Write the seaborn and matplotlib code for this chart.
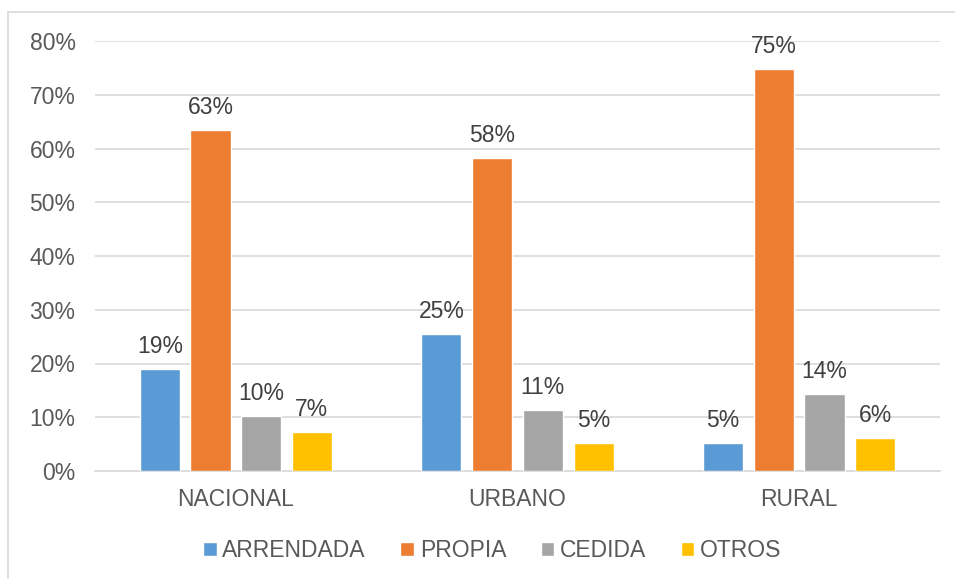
import pandas as pd
import numpy as np
import matplotlib.pyplot as plt
import seaborn as sns
from matplotlib.lines import Line2D
from matplotlib.ticker import PercentFormatter

# data
zonas = ['NACIONAL', 'URBANO', 'RURAL']
tenencias = ['ARRENDADA', 'PROPIA', 'CEDIDA', 'OTROS']
arrendada = [19.0, 25.4, 5.2]
propia = [63.4, 58.2, 74.8]
cedida = [10.2, 11.3, 14.3]
otros = [7.3, 5.2, 6.1]
colores = ['#5B9BD5', '#ED7D31', '#A5A5A5', '#FFC000']

df = pd.DataFrame({
    'zona': zonas * 4,
    'tenencia': np.repeat(tenencias, 3),
    'valor': arrendada + propia + cedida + otros,
})

sns.set_style('white')
plt.rcParams['font.family'] = ['Liberation Sans', 'DejaVu Sans']
texto = '#595959'
fs = 16.5

fig = plt.figure(figsize=(9.55, 5.79), dpi=100)
ax = fig.add_axes([95 / 955, 1 - 471 / 579, 845 / 955, 430 / 579])

sns.barplot(data=df, x='zona', y='valor', hue='tenencia', order=zonas,
            hue_order=tenencias, palette=colores, width=0.72, gap=0.21,
            saturation=1, ax=ax, zorder=3)

for cont in ax.containers:
    ax.bar_label(cont, labels=[f'{v:.0f}%' for v in cont.datavalues],
                 padding=8, fontsize=fs, color='#404040')

ax.set_ylim(0, 80)
ax.set_xlim(-0.5, 2.5)
ax.set_yticks(range(0, 81, 10))
ax.yaxis.set_major_formatter(PercentFormatter(decimals=0))
ax.grid(axis='y', color='#D9D9D9', linewidth=1.2, zorder=0)
ax.set_axisbelow(True)
for s in ['top', 'right', 'left']:
    ax.spines[s].set_visible(False)
ax.spines['bottom'].set_color('#D9D9D9')
ax.spines['bottom'].set_linewidth(1.2)
ax.tick_params(axis='both', length=0, labelsize=fs, labelcolor=texto)
ax.tick_params(axis='x', pad=12)
ax.tick_params(axis='y', pad=14)
ax.set_xlabel('')
ax.set_ylabel('')

ax.legend(loc='center', bbox_to_anchor=(0.47, -0.185), ncol=4, frameon=False,
          fontsize=fs, labelcolor=texto, handlelength=0.6, handleheight=0.6,
          handletextpad=0.25, columnspacing=1.5)

# chart border (only top and left visible in the reference)
fig.add_artist(Line2D([8 / 955, 1], [1 - 12 / 579, 1 - 12 / 579],
                      transform=fig.transFigure, color='#D9D9D9', lw=1.2))
fig.add_artist(Line2D([8 / 955, 8 / 955], [0, 1 - 12 / 579],
                      transform=fig.transFigure, color='#D9D9D9', lw=1.2))

fig.savefig('out.png', dpi=100)
